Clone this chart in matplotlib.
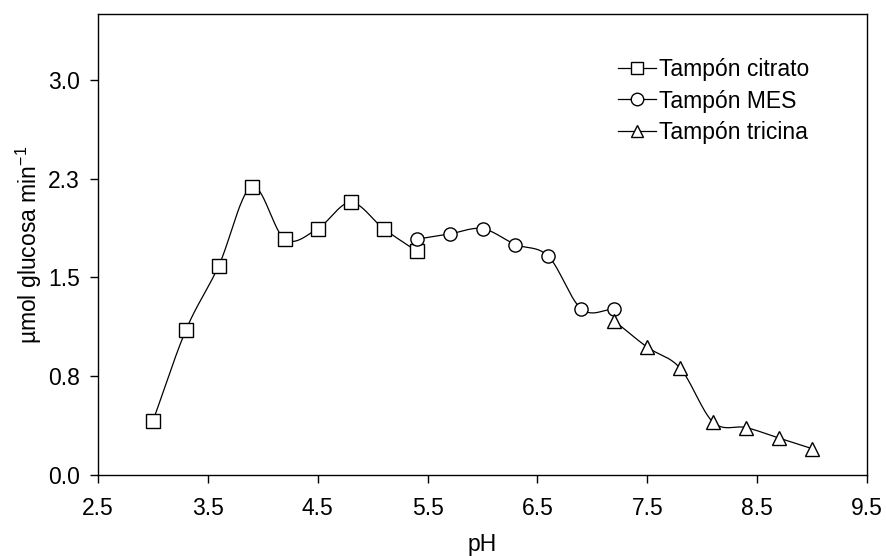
import numpy as np
import matplotlib
matplotlib.use("Agg")
import matplotlib.pyplot as plt

plt.rcParams['font.family'] = ['Liberation Sans', 'DejaVu Sans']

# pH values and activity for each buffer
ph_citrato = [3.0, 3.3, 3.6, 3.9, 4.2, 4.5, 4.8, 5.1, 5.4]
act_citrato = [0.41, 1.10, 1.59, 2.19, 1.79, 1.87, 2.07, 1.87, 1.70]

ph_mes = [5.4, 5.7, 6.0, 6.3, 6.6, 6.9, 7.2]
act_mes = [1.79, 1.83, 1.87, 1.75, 1.66, 1.26, 1.26]

ph_tricina = [7.2, 7.5, 7.8, 8.1, 8.4, 8.7, 9.0]
act_tricina = [1.17, 0.97, 0.81, 0.40, 0.36, 0.28, 0.20]

labels = ["Tampón citrato", "Tampón MES", "Tampón tricina"]
markers = ["s", "o", "^"]

x_ticks = [2.5, 3.5, 4.5, 5.5, 6.5, 7.5, 8.5, 9.5]
x_ticklabels = ["2.5", "3.5", "4.5", "5.5", "6.5", "7.5", "8.5", "9.5"]
y_ticks = [0.0, 0.75, 1.5, 2.25, 3.0]
y_ticklabels = ["0.0", "0.8", "1.5", "2.3", "3.0"]


def smooth_curve(x, y, n=40):
    """Cardinal (Catmull-Rom) Hermite spline through the points."""
    x = np.asarray(x, float)
    y = np.asarray(y, float)
    k = len(x)
    m = np.empty(k)
    m[0] = (y[1] - y[0]) / (x[1] - x[0])
    m[-1] = (y[-1] - y[-2]) / (x[-1] - x[-2])
    m[1:-1] = (y[2:] - y[:-2]) / (x[2:] - x[:-2])
    xs_all, ys_all = [], []
    for i in range(k - 1):
        h = x[i + 1] - x[i]
        t = np.linspace(0, 1, n)
        h00 = 2 * t ** 3 - 3 * t ** 2 + 1
        h10 = t ** 3 - 2 * t ** 2 + t
        h01 = -2 * t ** 3 + 3 * t ** 2
        h11 = t ** 3 - t ** 2
        xs_all.append(x[i] + t * h)
        ys_all.append(h00 * y[i] + h10 * h * m[i] + h01 * y[i + 1] + h11 * h * m[i + 1])
    return np.concatenate(xs_all), np.concatenate(ys_all)


fig = plt.figure(figsize=(8.86, 5.56), dpi=100)
ax = fig.add_axes([0.1106, 0.1457, 0.8680, 0.8291])

series = [(ph_citrato, act_citrato), (ph_mes, act_mes), (ph_tricina, act_tricina)]
for (xv, yv), lab, mk in zip(series, labels, markers):
    xs, ys = smooth_curve(xv, yv)
    ax.plot(xs, ys, color="black", lw=0.9, zorder=2)
    ax.plot(xv, yv, linestyle="none", marker=mk, markersize=9.5,
            markerfacecolor="white", markeredgecolor="black",
            markeredgewidth=1.0, zorder=3)
    # legend proxy: line with marker
    ax.plot([], [], color="black", lw=0.9, marker=mk, markersize=9,
            markerfacecolor="white", markeredgecolor="black",
            markeredgewidth=1.0, label=lab)

ax.set_xlim(2.5, 9.5)
ax.set_ylim(0, 3.5)
ax.set_xticks(x_ticks)
ax.set_xticklabels(x_ticklabels)
ax.set_yticks(y_ticks)
ax.set_yticklabels(y_ticklabels)
ax.tick_params(direction="out", length=6, width=1.0, labelsize=16.5)
ax.tick_params(axis="x", pad=10)
ax.tick_params(axis="y", pad=7)

for sp in ax.spines.values():
    sp.set_linewidth(1.0)

ax.set_xlabel("pH", fontsize=16.5, labelpad=9)
ax.set_ylabel(r"µmol glucosa min$^{\mathregular{-1}}$", fontsize=16.5, labelpad=3)

ax.legend(loc="upper left", bbox_to_anchor=(0.676, 0.905), frameon=False,
          fontsize=16.5, handlelength=1.66, handletextpad=0.15,
          labelspacing=0.38, borderaxespad=0, borderpad=0)

fig.savefig("out.png", dpi=100)
